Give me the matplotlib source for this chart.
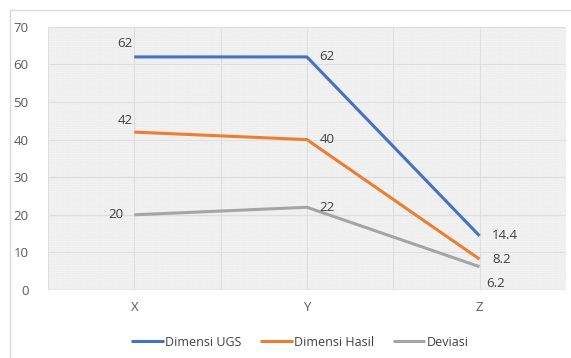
import matplotlib.pyplot as plt
from matplotlib.patches import Rectangle

categories = ['X', 'Y', 'Z']
ugs = [62, 62, 14.4]
hasil = [42, 40, 8.2]
deviasi = [20, 22, 6.2]

series = [
	('Dimensi UGS', ugs, '#4472C4'),
	('Dimensi Hasil', hasil, '#ED7D31'),
	('Deviasi', deviasi, '#A5A5A5'),
]
# label offsets in points per (series, category)
offsets = [
	[(-1, 10, 'right'), (9, 0, 'left'), (9, 0, 'left')],
	[(-1, 8, 'right'), (9, 0, 'left'), (9, 0, 'left')],
	[(-8, 0, 'right'), (9, 0, 'left'), (5, -12, 'left')],
]

plt.rcParams['font.family'] = ['Open Sans', 'DejaVu Sans']
fig = plt.figure(figsize=(5.71, 3.58), dpi=100)
fig.patches.append(Rectangle((0.017, -0.01), 0.99, 0.982, transform=fig.transFigure,
	fill=False, edgecolor='#DADADA', lw=1))
ax = fig.add_axes([0.084, 0.19, 0.907, 0.735])
ax.set_facecolor('#F5F5F5')
ax.patch.set_hatch('.......')
ax.patch.set_edgecolor('#E9E9E9')
ax.patch.set_linewidth(0)

x = list(range(len(categories)))
for (name, vals, col), offs in zip(series, offsets):
	ax.plot(x, vals, color=col, lw=2.2, label=name, solid_capstyle='butt')
	for xi, v, (dx, dy, ha) in zip(x, vals, offs):
		ax.annotate(f'{v:g}', (xi, v), xytext=(dx, dy), textcoords='offset points',
			ha=ha, va='center', fontsize=9.5, color='#404040')

ax.set_xlim(-0.5, 2.5)
ax.set_ylim(0, 70)
ax.set_yticks(range(0, 71, 10))
ax.set_xticks(x)
ax.set_xticklabels(categories)
ax.set_xticks([-0.5, 0.5, 1.5, 2.5], minor=True)
ax.grid(True, which='both', color='#DEDEDE', lw=0.8)
ax.set_axisbelow(True)
ax.tick_params(which='both', length=0, colors='#595959', labelsize=9.5)
ax.tick_params(axis='x', pad=8)
ax.tick_params(axis='y', pad=14)
for s in ax.spines.values():
	s.set_visible(False)
ax.axhline(0, color='#D0D0D0', lw=1)

fig.legend(loc='lower center', bbox_to_anchor=(0.525, -0.005), ncol=3, frameon=False,
	fontsize=9, handlelength=2.6, handletextpad=0.1, columnspacing=1.5, labelcolor='#404040')

fig.savefig('out.png', dpi=100)
